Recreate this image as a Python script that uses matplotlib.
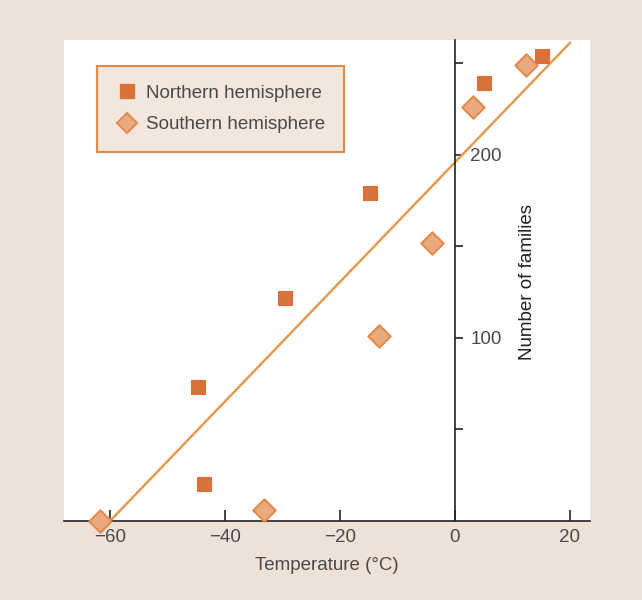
import matplotlib
matplotlib.use("Agg")
import matplotlib.pyplot as plt
from matplotlib.lines import Line2D

# Mean annual temperature (deg C) vs. number of families
north_temp = [-44.7, -43.7, -29.6, -14.8, 5.0, 15.1]
north_count = [73, 20, 122, 179, 239, 254]

south_temp = [-61.7, -33.2, -13.2, -4.0, 3.1, 12.3]
south_count = [0, 6, 101, 152, 226, 249]

# fitted trend line endpoints
fit_temp = [-60, 20]
fit_count = [0, 261]

x_ticks = [-60, -40, -20, 20]
y_ticks = [50, 100, 150, 200, 250]
y_labels = ["", "100", "", "200", ""]

BG = "#EEE1D8"
SQUARE = "#D8723A"
DIAMOND_FACE = "#E9AA80"
DIAMOND_EDGE = "#E38B4C"
LINE = "#E59B52"
TEXT = "#4A4A4A"

plt.rcParams["font.family"] = ["Liberation Sans", "DejaVu Sans"]

fig = plt.figure(figsize=(6.42, 6.0), dpi=100, facecolor=BG)
ax = fig.add_axes([64 / 642, 1 - 521 / 600, 526 / 642, 481 / 600])
ax.set_facecolor("white")

ax.set_xlim(-68.0, 23.5)
ax.set_ylim(0, 262.6)

ax.plot(fit_temp, fit_count, color=LINE, linewidth=1.8, zorder=2)

ax.scatter(north_temp, north_count, marker="s", s=110, color=SQUARE,
           edgecolor=SQUARE, linewidth=0.8, zorder=3, clip_on=False)
ax.scatter(south_temp, south_count, marker="D", s=130, color=DIAMOND_FACE,
           edgecolor=DIAMOND_EDGE, linewidth=1.5, zorder=3, clip_on=False)

# axes: bottom spine at zero, vertical axis running through T = 0
for side in ("left", "top"):
    ax.spines[side].set_visible(False)
ax.spines["right"].set_position(("data", 0))
ax.spines["right"].set_color("#222222")
ax.spines["bottom"].set_color("#222222")
ax.spines["right"].set_linewidth(1.2)
ax.spines["bottom"].set_linewidth(1.2)

ax.yaxis.tick_right()
ax.set_yticks(y_ticks)
ax.set_yticklabels(y_labels)
ax.tick_params(axis="y", direction="out", length=6, width=1.2,
               color="#222222", labelsize=13.5, labelcolor=TEXT, pad=5)

ax.set_xticks(x_ticks + [0])
ax.set_xticklabels(["\u221260", "\u221240", "\u221220", "20", "0"])
ax.tick_params(axis="x", direction="in", length=8, width=1.2,
               color="#222222", labelsize=13.5, labelcolor=TEXT, pad=6)

ax.set_xlabel("Temperature (\u00b0C)", fontsize=13.5, color=TEXT, labelpad=8)
fig.text(527 / 642, 1 - 282 / 600, "Number of families", rotation=90,
         ha="center", va="center", fontsize=13.5, color="#222222")

handles = [
    Line2D([], [], marker="s", linestyle="none", markersize=10,
           markerfacecolor=SQUARE, markeredgecolor=SQUARE),
    Line2D([], [], marker="D", linestyle="none", markersize=10,
           markerfacecolor=DIAMOND_FACE, markeredgecolor=DIAMOND_EDGE,
           markeredgewidth=1.5),
]
leg = fig.legend(handles, ["Northern hemisphere", "Southern hemisphere"],
                 loc="upper left", bbox_to_anchor=(97 / 642, 1 - 66 / 600),
                 borderaxespad=0, fancybox=False, fontsize=13.5,
                 handletextpad=0.4, labelspacing=0.75, borderpad=1.0,
                 handlelength=1.2)
frame = leg.get_frame()
frame.set_facecolor("#F3E6DC")
frame.set_edgecolor("#E08A48")
frame.set_linewidth(1.5)
frame.set_alpha(1)
for t in leg.get_texts():
    t.set_color(TEXT)

fig.savefig("out.png", dpi=100, facecolor=BG)
